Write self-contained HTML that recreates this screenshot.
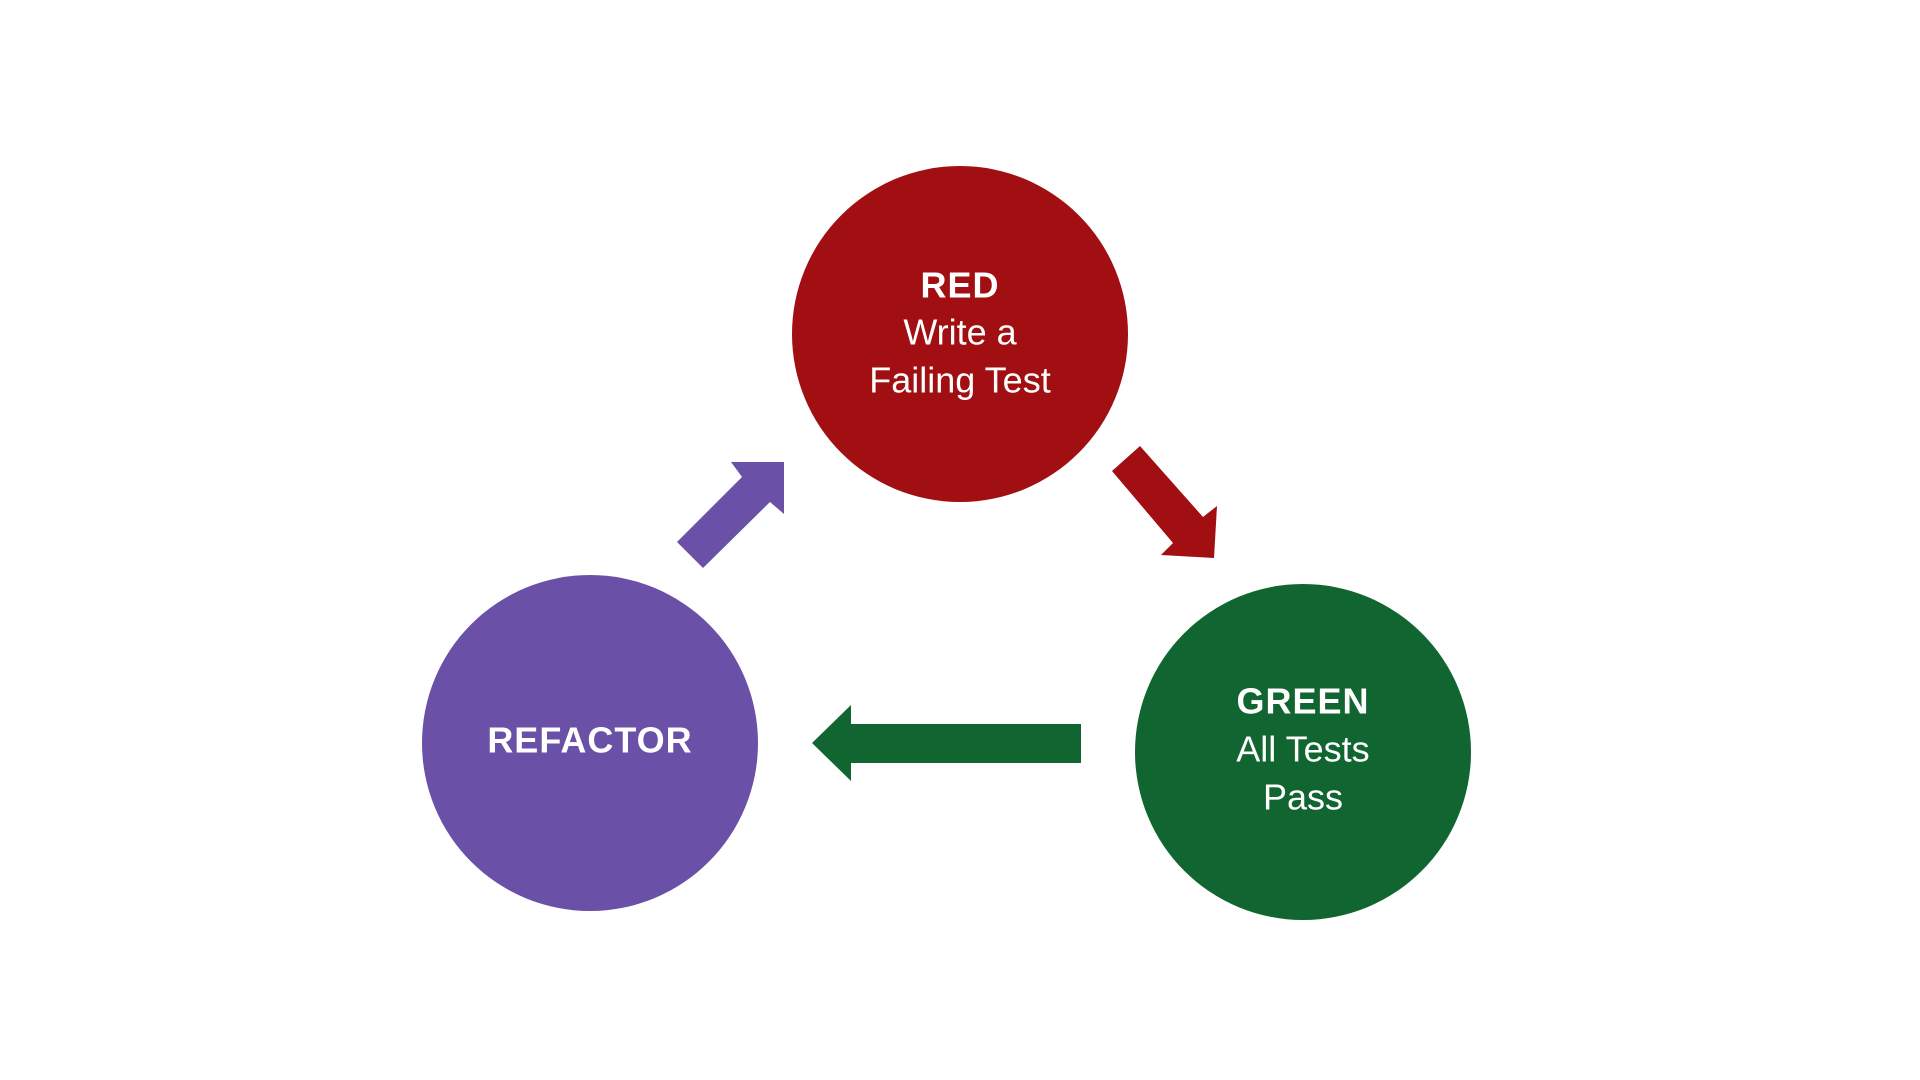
<!DOCTYPE html>
<html><head><style>
html,body{margin:0;padding:0;background:#fff;}
svg{display:block}
text{font-family:"Liberation Sans",sans-serif;fill:#fff;text-anchor:middle;dominant-baseline:middle;font-size:36px}
.b{font-weight:bold;letter-spacing:1px}
</style></head><body>
<svg width="1920" height="1080" viewBox="0 0 1920 1080">
<circle cx="960" cy="334" r="168" fill="#A20F12"/>
<circle cx="1303" cy="752" r="168" fill="#116530"/>
<circle cx="590" cy="743" r="168" fill="#6A50A7"/>
<polygon points="1112,471 1140,446 1203,517 1217,506 1214,558 1161,555 1173,543" fill="#A20F12"/>
<polygon points="677,542 742,477 731,462 784,462 784,514 770,502 703,568" fill="#6A50A7"/>
<polygon points="1081,724 851,724 851,705 812,743 851,781 851,763 1081,763" fill="#116530"/>
<text x="960" y="288" class="b">RED</text>
<text x="960" y="335">Write a</text>
<text x="960" y="383">Failing Test</text>
<text x="1303" y="704" class="b">GREEN</text>
<text x="1303" y="752">All Tests</text>
<text x="1303" y="800">Pass</text>
<text x="590" y="743" class="b">REFACTOR</text>
</svg>
</body></html>
